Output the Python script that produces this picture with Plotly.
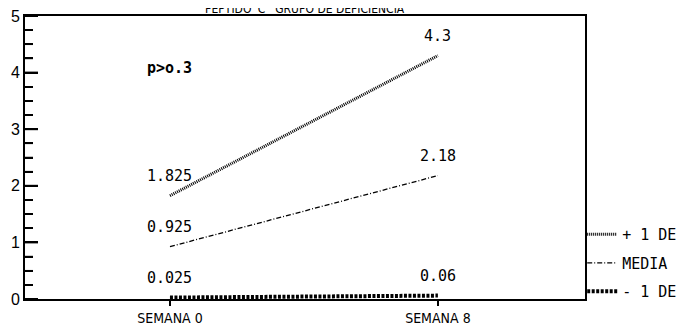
import plotly.graph_objects as go

weeks = ["SEMANA 0", "SEMANA 8"]
x_pos = [0, 1]
plus_sd = [1.825, 4.3]
media = [0.925, 2.18]
minus_sd = [0.025, 0.06]
plus_labels = ["1.825", "4.3"]
media_labels = ["0.925", "2.18"]
minus_labels = ["0.025", "0.06"]
y_ticks = [0, 1, 2, 3, 4, 5]
y_minor = [0.25, 0.5, 0.75, 1.25, 1.5, 1.75, 2.25, 2.5, 2.75,
           3.25, 3.5, 3.75, 4.25, 4.5, 4.75]
title_text = "PEPTIDO 'C'  GRUPO DE DEFICIENCIA"
p_text = "p>o.3"

mono = "DejaVu Sans Mono"
cond = "DejaVu Sans Condensed, Liberation Sans Narrow, Liberation Sans, sans-serif"

PLOT_W, PLOT_H = 560, 283

fig = go.Figure()
fig.add_trace(go.Scatter(x=x_pos, y=plus_sd, mode="lines", name="+ 1 DE",
                         line=dict(color="black", width=3, dash="1px,1px"),
                         legendgroup="a"))
fig.add_trace(go.Scatter(x=x_pos, y=media, mode="lines", name="MEDIA",
                         line=dict(color="black", width=1.3, dash="5px,2px,1px,2px"),
                         legendgroup="b"))
fig.add_trace(go.Scatter(x=x_pos, y=minus_sd, mode="lines", name="- 1 DE",
                         line=dict(color="black", width=4, dash="3px,1.5px"),
                         legendgroup="c"))

for xs, ys, labs in [(x_pos, plus_sd, plus_labels), (x_pos, media, media_labels),
                     (x_pos, minus_sd, minus_labels)]:
    for xv, yv, t in zip(xs, ys, labs):
        fig.add_annotation(x=xv, y=yv, text=t, showarrow=False, yshift=20,
                           font=dict(family=mono, size=15, color="black"))

fig.add_annotation(x=0, y=4.08, text="<b>" + p_text + "</b>", showarrow=False,
                   font=dict(family=mono, size=15, color="black"),
                   xanchor="center")

fig.add_annotation(xref="paper", yref="paper", x=0.5, y=1.0 + 7 / PLOT_H,
                   text=title_text, showarrow=False, yanchor="middle",
                   font=dict(family=cond, size=12, color="black"))

# axis tick marks (inside on y, short outside on x)
for yv in y_ticks:
    fig.add_shape(type="line", xref="x domain", yref="y", x0=0, x1=13 / PLOT_W,
                  y0=yv, y1=yv, layer="above", line=dict(color="black", width=2))
for yv in y_minor:
    fig.add_shape(type="line", xref="x domain", yref="y", x0=0, x1=8 / PLOT_W,
                  y0=yv, y1=yv, layer="above", line=dict(color="black", width=1.5))
for xv in x_pos:
    fig.add_shape(type="line", xref="x", yref="y domain", x0=xv, x1=xv,
                  y0=0, y1=-5 / PLOT_H, layer="above", line=dict(color="black", width=1.5))

fig.update_layout(
    width=680, height=321,
    margin=dict(l=17, r=103, t=8, b=30, autoexpand=False),
    paper_bgcolor="white", plot_bgcolor="white",
    showlegend=True,
    legend=dict(x=0.995, y=0.286, xanchor="left", yanchor="top",
                font=dict(family=mono, size=15, color="black"),
                tracegroupgap=6, itemwidth=30, bgcolor="rgba(0,0,0,0)"),
    xaxis=dict(range=[-0.541, 1.549], tickmode="array", tickvals=x_pos, ticktext=weeks,
               automargin=False, ticks="outside", ticklen=5, tickwidth=1.5,
               tickcolor="black",
               showgrid=False, zeroline=False, showline=True, linecolor="black",
               linewidth=2, mirror=True,
               tickfont=dict(family=cond, size=14, color="black")),
    yaxis=dict(range=[0, 5], tickmode="array", tickvals=y_ticks, showgrid=False,
               automargin=False, ticks="inside", ticklen=13, tickwidth=2,
               tickcolor="black", ticklabeloverflow="allow",
               minor=dict(tickmode="array", tickvals=y_minor, ticks="inside",
                          ticklen=8, tickwidth=1.5, tickcolor="black"),
               zeroline=False, showline=True, linecolor="black", linewidth=2,
               mirror=True,
               tickfont=dict(family="Liberation Sans", size=16, color="black")),
)

fig.write_html("out.html")
